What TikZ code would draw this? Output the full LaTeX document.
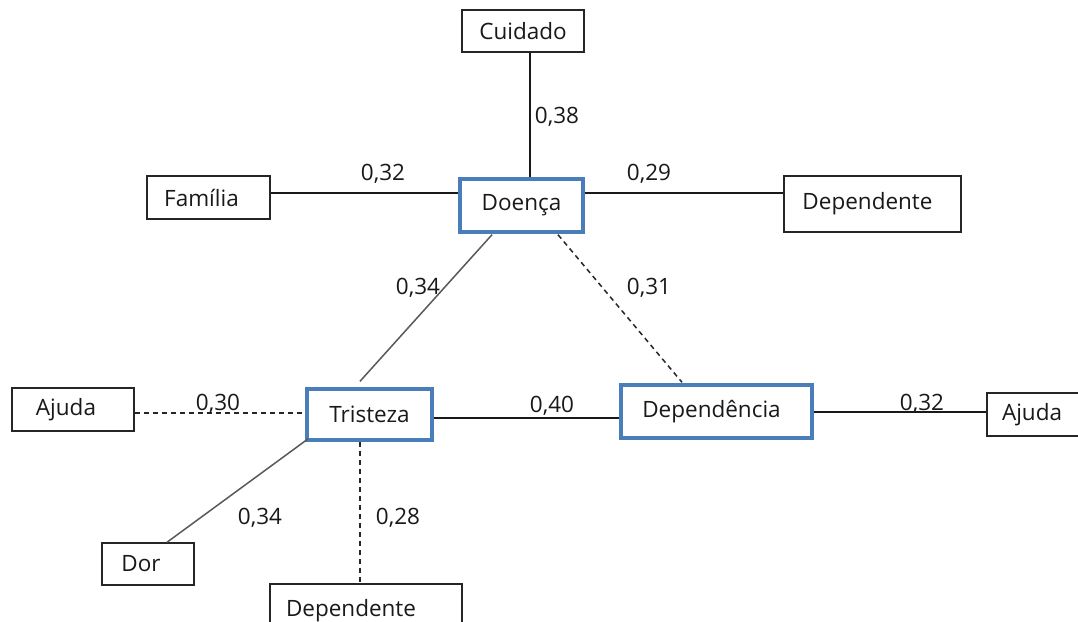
\documentclass[tikz,border=0pt]{standalone}
\usepackage{fontspec}
\setmainfont{Open Sans}
\definecolor{frameblue}{RGB}{74,126,187}
\begin{document}
\begin{tikzpicture}[x=1pt,y=-1pt,
  every node/.style={font=\fontsize{22.5}{26}\selectfont, text=black!90},
  plainbox/.style={draw=black!85, line width=1.5pt, fill=white, inner sep=0pt},
  bluebox/.style={draw=frameblue, line width=3.4pt, fill=white, inner sep=0pt},
  link/.style={draw=black!90, line width=1.4pt},
  slant/.style={draw=black!65, line width=1.5pt},
  dashlink/.style={draw=black!85, line width=1.5pt, dash pattern=on 5pt off 4pt},
  wlabel/.style={inner sep=0pt}]
\clip (0,0) rectangle (1078,621);
\fill[white] (0,0) rectangle (1078,621);

% boxes
\node[plainbox, minimum width=122, minimum height=42] (cuid) at (523,31) {Cuidado};
\node[plainbox, minimum width=123, minimum height=43] (fam) at (208.5,197.5) {\hspace*{-14pt}Família};
\node[bluebox, minimum width=123, minimum height=53] (doe) at (521.5,205.5) {Doença};
\node[plainbox, minimum width=177, minimum height=56] (depT) at (872.5,204) {\raisebox{3pt}{\hspace*{-10pt}Dependente}};
\node[bluebox, minimum width=125, minimum height=51] (tri) at (369.5,414.5) {Tristeza};
\node[plainbox, minimum width=122, minimum height=43] (ajL) at (73,409.5) {\hspace*{-14pt}Ajuda};
\node[bluebox, minimum width=191, minimum height=53] (depc) at (716.5,411.5) {\hspace*{-10pt}Dependência};
\node[plainbox, minimum width=104, minimum height=43, text width=104, align=left] (ajR) at (1039,414.5) {\hspace*{15pt}Ajuda};
\node[plainbox, minimum width=92, minimum height=42] (dor) at (148,564) {\hspace*{-14pt}Dor};
\node[plainbox, minimum width=192, minimum height=56, text width=180, align=left] (depB) at (366,612) {\raisebox{9pt}{\hspace*{10pt}Dependente}};

% connectors
\draw[link] ([xshift=7pt]cuid.south) -- ([xshift=7pt]cuid.south |- doe.north);
\draw[link] ([yshift=4.5pt]fam.east) -- ([yshift=4.5pt]fam.east -| doe.west);
\draw[link] ([yshift=12.5pt]doe.east) -- ([yshift=12.5pt]doe.east -| depT.west);
\draw[slant] ([xshift=-29.5pt,yshift=-1pt]doe.south) -- ([xshift=-9.5pt,yshift=6pt]tri.north);
\draw[dashlink] ([xshift=36.5pt,yshift=-1pt]doe.south) -- ([xshift=-34.5pt,yshift=1pt]depc.north);
\draw[dashlink] ([yshift=-3.5pt]ajL.east) -- ([yshift=-3.5pt]ajL.east -| tri.west);
\draw[link] ([yshift=-3.5pt]tri.east) -- ([yshift=-3.5pt]tri.east -| depc.west);
\draw[link] ([yshift=-0.5pt]depc.east) -- ([yshift=-0.5pt]depc.east -| ajR.west);
\draw[slant] ([xshift=3pt,yshift=3pt]tri.south west) -- ([xshift=19pt]dor.north);
\draw[dashlink] ([xshift=-9.5pt]tri.south) -- ([xshift=-9.5pt]tri.south |- depB.north);

% weights
\node[wlabel] (w1) at (557,117) {0,38};
\node[wlabel] (w2) at (383,174) {0,32};
\node[wlabel] (w3) at (649,174) {0,29};
\node[wlabel] (w4) at (418,288) {0,34};
\node[wlabel] (w5) at (649,288) {0,31};
\node[wlabel] (w6) at (218,404) {0,30};
\node[wlabel] (w7) at (552,406) {0,40};
\node[wlabel] (w8) at (922,404) {0,32};
\node[wlabel] (w9) at (260,518) {0,34};
\node[wlabel] (w10) at (398,518) {0,28};
\end{tikzpicture}
\end{document}
